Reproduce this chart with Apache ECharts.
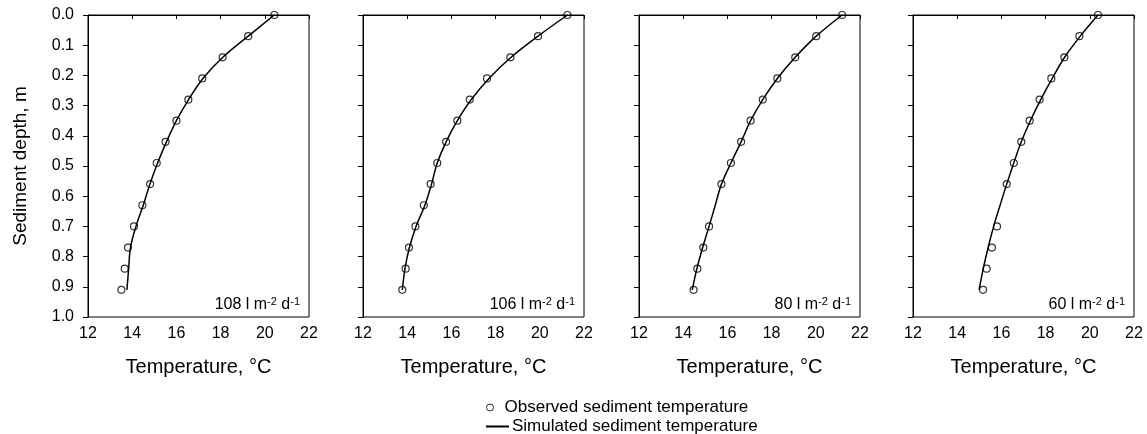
<!DOCTYPE html>
<html>
<head>
<meta charset="utf-8">
<script src="https://cdn.jsdelivr.net/npm/echarts@6/dist/echarts.min.js"></script>
<style>html,body{margin:0;padding:0;background:#fff}#c{width:1147px;height:434px}</style>
</head>
<body>
<div id="c"></div>
<script>
// ---- data ----
const depths = [0.00, 0.07, 0.14, 0.21, 0.28, 0.35, 0.42, 0.49, 0.56, 0.63, 0.70, 0.77, 0.84, 0.91];
const panelLabels = ['108', '106', '80', '60'];
// observed sediment temperature (°C) at each depth (null = no observation)
const obs108 = [20.43, 19.25, 18.09, 17.17, 16.54, 16.00, 15.51, 15.11, 14.81, 14.46, 14.08, 13.81, 13.66, 13.51];
const obs106 = [21.25, 19.92, 18.67, 17.61, 16.83, 16.27, 15.76, 15.36, 15.06, 14.75, 14.37, 14.08, 13.93, 13.78];
const obs80  = [21.19, 20.02, 19.07, 18.26, 17.60, 17.05, 16.62, 16.16, 15.73, null, 15.17, 14.91, 14.64, 14.47];
const obs60  = [20.37, 19.53, 18.85, 18.26, 17.73, 17.28, 16.90, 16.56, 16.24, null, 15.80, 15.57, 15.33, 15.17];
// simulated sediment temperature (°C)
const sim108 = [20.43, 19.25, 18.10, 17.20, 16.55, 16.00, 15.55, 15.15, 14.80, 14.50, 14.17, 13.92, 13.84, 13.76];
const sim106 = [21.25, 19.92, 18.70, 17.70, 16.90, 16.27, 15.76, 15.36, 15.10, 14.80, 14.40, 14.10, 13.90, 13.78];
const sim80  = [21.19, 20.02, 19.07, 18.26, 17.60, 17.05, 16.62, 16.16, 15.73, 15.45, 15.17, 14.88, 14.62, 14.41];
const sim60  = [20.37, 19.57, 18.86, 18.30, 17.78, 17.31, 16.90, 16.56, 16.24, 15.94, 15.65, 15.40, 15.18, 14.99];
const xTicks = [12, 14, 16, 18, 20, 22];
const yTicks = [0.0, 0.1, 0.2, 0.3, 0.4, 0.5, 0.6, 0.7, 0.8, 0.9, 1.0];

const observed = [obs108, obs106, obs80, obs60];
const simulated = [sim108, sim106, sim80, sim60];

// ---- layout ----
const FONT = 'Liberation Sans, Arial, sans-serif';
const lefts = [88, 363, 639, 913];
const W = 221, TOP = 15, H = 302;

const grids = [], xAxes = [], yAxes = [], series = [], titles = [];
lefts.forEach((l, i) => {
  grids.push({left: l, top: TOP, width: W, height: H, show: true, borderColor: '#000', borderWidth: 1, containLabel: false});
  xAxes.push({
    type: 'value', gridIndex: i, min: xTicks[0], max: xTicks[xTicks.length - 1], interval: 2,
    name: 'Temperature, °C', nameLocation: 'middle', nameGap: 40,
    nameTextStyle: {fontFamily: FONT, fontSize: 20, color: '#000'},
    axisLine: {show: true, lineStyle: {color: '#000', width: 1}},
    axisTick: {show: true, length: 4, lineStyle: {color: '#000'}},
    axisLabel: {fontFamily: FONT, fontSize: 16, color: '#000', margin: 9},
    splitLine: {show: false}
  });
  yAxes.push({
    type: 'value', gridIndex: i, inverse: true, min: yTicks[0], max: yTicks[yTicks.length - 1], interval: 0.1,
    name: i === 0 ? 'Sediment depth, m' : '', nameLocation: 'middle', nameGap: 58,
    nameTextStyle: {fontFamily: FONT, fontSize: 19, color: '#000'},
    axisLine: {show: true, lineStyle: {color: '#000', width: 1}},
    axisTick: {show: true, length: 5, lineStyle: {color: '#000'}},
    axisLabel: {show: i === 0, fontFamily: FONT, fontSize: 16, color: '#000', margin: 14,
      formatter: v => v.toFixed(1)},
    splitLine: {show: false}
  });
  series.push({
    name: 'Simulated sediment temperature', type: 'line', xAxisIndex: i, yAxisIndex: i,
    data: depths.map((d, k) => [simulated[i][k], d]),
    smooth: 0.35, showSymbol: false, symbol: 'none',
    lineStyle: {color: '#000', width: 1.5}, itemStyle: {color: '#000'}, z: 2
  });
  series.push({
    name: 'Observed sediment temperature', type: 'scatter', xAxisIndex: i, yAxisIndex: i,
    data: depths.map((d, k) => [observed[i][k], d]).filter(p => p[0] !== null),
    symbol: 'circle', symbolSize: 7,
    itemStyle: {color: 'rgba(0,0,0,0)', borderColor: '#000', borderWidth: 1.2}, z: 3
  });
  titles.push({
    text: panelLabels[i] + ' l m{s|-2} d{s|-1}',
    right: 1147 - (l + W) + 4, top: TOP + H - 26,
    textStyle: {fontFamily: FONT, fontSize: 16, fontWeight: 'normal', color: '#000',
      rich: {s: {fontFamily: FONT, fontSize: 11, color: '#000', verticalAlign: 'top', lineHeight: 18}}}
  });
});

const chart = echarts.init(document.getElementById('c'), null, {renderer: 'canvas'});
chart.setOption({
  animation: false,
  backgroundColor: '#fff',
  title: titles,
  grid: grids,
  xAxis: xAxes,
  yAxis: yAxes,
  legend: [
    {data: ['Observed sediment temperature'], left: 481, top: 394, icon: 'circle',
      itemWidth: 23, itemHeight: 7,
      itemStyle: {color: 'rgba(0,0,0,0)', borderColor: '#000', borderWidth: 1},
      textStyle: {fontFamily: FONT, fontSize: 17, color: '#000', padding: [0,0,0,-2]}},
    {data: ['Simulated sediment temperature'], left: 481, top: 413, icon: 'rect',
      itemWidth: 23, itemHeight: 2,
      itemStyle: {color: '#000'},
      textStyle: {fontFamily: FONT, fontSize: 17, color: '#000', padding: [0,0,0,-2]}}
  ],
  series: series
});
</script>
</body>
</html>
